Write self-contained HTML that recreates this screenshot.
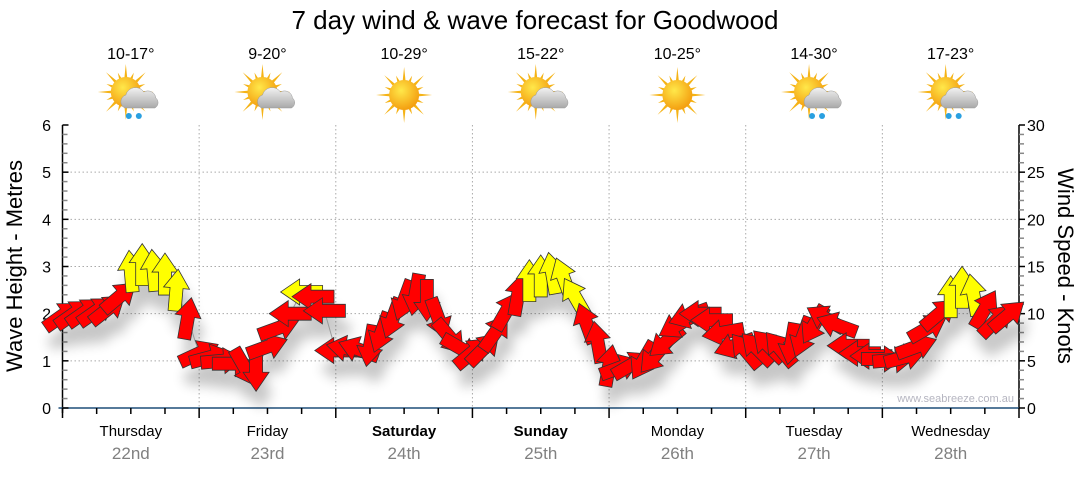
<!DOCTYPE html>
<html><head><meta charset="utf-8"><style>
body{margin:0;background:#fff;}
svg text{font-family:"Liberation Sans",sans-serif;}
</style></head><body>
<svg id="chart" width="1080" height="475" viewBox="0 0 1080 475" xmlns="http://www.w3.org/2000/svg">
<defs>
<filter id="sh" x="-50%" y="-50%" width="200%" height="200%"><feGaussianBlur stdDeviation="6"/></filter>
<radialGradient id="sunG" cx="0.4" cy="0.35" r="0.7"><stop offset="0" stop-color="#ffe84a"/><stop offset="1" stop-color="#f39a0c"/></radialGradient>
<linearGradient id="cloudG" x1="0" y1="0" x2="0" y2="1"><stop offset="0" stop-color="#f2f2f2"/><stop offset="1" stop-color="#a9a9a9"/></linearGradient>
</defs>
<text x="535" y="29" font-size="26" text-anchor="middle" fill="#000">7 day wind &amp; wave forecast for Goodwood</text>
<g id="grid"></g>
<g id="axes"></g>
<g id="icons"></g>
<g id="shadows" filter="url(#sh)" opacity="0.22"></g>
<g id="arrows"></g>
<text x="1014" y="402" font-size="11" text-anchor="end" fill="#b5b5c0">www.seabreeze.com.au</text>
<text transform="translate(22,266) rotate(-90)" font-size="22" text-anchor="middle">Wave Height - Metres</text>
<text transform="translate(1058,266) rotate(90)" font-size="22" text-anchor="middle">Wind Speed - Knots</text>
</svg>
<script>
const days = ["Thursday","Friday","Saturday","Sunday","Monday","Tuesday","Wednesday"];
const dates = ["22nd","23rd","24th","25th","26th","27th","28th"];
const boldDays = [false,false,true,true,false,false,false];
const temps = ["10-17°","9-20°","10-29°","15-22°","10-25°","14-30°","17-23°"];
const iconTypes = ["rain","cloud","sun","cloud","sun","rain","rain"];
const leftTicks = [0,1,2,3,4,5,6];
const rightTicks = [0,5,10,15,20,25,30];
const hours = [0,2,4,6,8,10,12,14,16,18,20,22,
 24,26,28,30,32,34,36,38,40,42,44,46,
 48,50,52,54,56,58,60,62,64,66,68,70,
 72,74,76,78,80,82,84,86,88,90,92,94,
 96,98,100,102,104,106,108,110,112,114,116,118,
 120,122,124,126,128,130,132,134,136,138,140,142,
 144,146,148,150,152,154,156,158,160,162,164,166];
const speeds = [9.8,10,10.2,10.3,10.5,11.8,14.5,15.2,14.6,14.2,12.5,9.5,
 5.8,5.4,5,4.7,4.3,4,6.5,8.5,10,12.3,11.8,10.3,
 6.1,6.3,6.2,6.6,8,9.5,11.4,12,11.4,9.5,7.5,6.3,
 5.9,6.3,8,10.3,12,13.5,14,14.3,13.8,11.8,9,7,
 4.5,4.3,4.6,5,5.5,7,8.8,9.8,10,9.3,8,6.6,
 6.1,6.3,6.6,6.3,6.8,7.5,8.8,9.5,8.8,6.6,5.8,5.5,
 5.2,5.1,5.4,6.5,8.5,10,11.8,12.8,12,10.5,9.3,9.8];
const dirs = [-35,-35,-35,-35,-38,-40,-95,-90,-95,-90,-85,-80,
 -25,-15,-5,0,60,90,-20,-20,180,180,180,180,
 180,190,200,100,110,110,110,100,90,70,50,30,
 -40,-45,-55,-60,-80,-90,-90,-100,-110,-120,-110,-100,
 -80,-20,-30,120,130,140,150,160,180,180,170,160,
 -130,-135,-135,-130,100,110,120,-150,200,180,180,180,
 0,-5,-15,-20,-30,-40,-90,-90,-100,-60,-45,-40];
const colors = ["r","r","r","r","r","r","y","y","y","y","y","r",
 "r","r","r","r","r","r","r","r","r","y","r","r",
 "r","r","r","r","r","r","r","r","r","r","r","r",
 "r","r","r","r","r","y","y","y","y","y","r","r",
 "r","r","r","r","r","r","r","r","r","r","r","r",
 "r","r","r","r","r","r","r","r","r","r","r","r",
 "r","r","r","r","r","r","y","y","y","r","r","r"];

const NS="http://www.w3.org/2000/svg";
const X0=62.5, X1=1019, Y0=408, Y1=125;
const xs = h => X0 + (X1-X0)*h/168;
const yM = m => Y0 - (Y0-Y1)*m/6;
const yK = k => Y0 - (Y0-Y1)*k/30;
function mk(tag, attrs, parent){const e=document.createElementNS(NS,tag);for(const k in attrs)e.setAttribute(k,attrs[k]);parent.appendChild(e);return e;}
const grid=document.getElementById('grid'), axes=document.getElementById('axes'), icons=document.getElementById('icons');
for(let m=1;m<=5;m++){const g=mk('line',{x1:X0,x2:X1,y1:yM(m),y2:yM(m),stroke:'#aaa','stroke-dasharray':'1.5,2.5'},grid);}
for(let d=1;d<7;d++){const g=mk('line',{x1:xs(d*24),x2:xs(d*24),y1:Y1,y2:Y0,stroke:'#aaa','stroke-dasharray':'1.5,2.5'},grid);}
let a=mk('line',{x1:X0,x2:X0,y1:Y1,y2:Y0+5,stroke:'#000','stroke-width':1.5},axes);
a=mk('line',{x1:X1,x2:X1,y1:Y1,y2:Y0,stroke:'#000','stroke-width':1.5},axes);
a=mk('line',{x1:X0-4,x2:X1,y1:Y0,y2:Y0,stroke:'#1f4e79','stroke-width':1.5},axes);
for(let i=0;i<=30;i++){const y=Y1+(Y0-Y1)*i/30;const major=i%5==0;
 mk('line',{x1:X0,x2:X0+(major?6:5),y1:y,y2:y,stroke:major?'#000':'#888','stroke-width':1.5},axes);
 mk('line',{x1:X1,x2:X1+(major?6:5),y1:y,y2:y,stroke:major?'#000':'#888','stroke-width':1.5},axes);}
leftTicks.forEach(v=>{const t=mk('text',{x:51,y:yM(v)+6,'font-size':16,'text-anchor':'end'},axes);t.textContent=v;});
rightTicks.forEach(v=>{const t=mk('text',{x:1027,y:yK(v)+6,'font-size':16},axes);t.textContent=v;});
for(let i=0;i<=28;i++){const x=xs(i*6);mk('line',{x1:x,x2:x,y1:Y0,y2:Y0+(i%4==0?10:6),stroke:'#000','stroke-width':1.5},axes);}
days.forEach((d,i)=>{const cx=xs(i*24+12);
 let t=mk('text',{x:cx,y:436,'font-size':15,'text-anchor':'middle','font-weight':boldDays[i]?'bold':'normal'},axes);t.textContent=d;
 t=mk('text',{x:cx,y:459,'font-size':17,'text-anchor':'middle',fill:'#808080'},axes);t.textContent=dates[i];
 t=mk('text',{x:cx,y:59,'font-size':16,'text-anchor':'middle'},axes);t.textContent=temps[i];
 const g=mk('g',{transform:'translate('+cx+',95)'},icons);
 const sx=iconTypes[i]=='sun'?0:-5, sy=iconTypes[i]=='sun'?0:-3;
 for(let r=0;r<16;r++){const ang=r*Math.PI/8;const L=r%2==0?28:21;
  const p1=[sx+Math.cos(ang-0.12)*13,sy+Math.sin(ang-0.12)*13],p2=[sx+Math.cos(ang)*L,sy+Math.sin(ang)*L],p3=[sx+Math.cos(ang+0.12)*13,sy+Math.sin(ang+0.12)*13];
  mk('polygon',{points:p1.join(',')+' '+p2.join(',')+' '+p3.join(','),fill:'#f5b316'},g);}
 mk('circle',{cx:sx,cy:sy,r:15,fill:'url(#sunG)'},g);
 if(iconTypes[i]!='sun'){
  mk('path',{d:'M-6,13 a7,7 0 0,1 1,-13 a10,10 0 0,1 18,-3 a8,8 0 0,1 12,6 a6,6 0 0,1 -1,10 z',fill:'url(#cloudG)',stroke:'#999','stroke-width':0.5},g);}
 if(iconTypes[i]=='rain'){mk('circle',{cx:-2,cy:21,r:3,fill:'#2aa0e0'},g);mk('circle',{cx:8,cy:21,r:3,fill:'#2aa0e0'},g);}
});
const line=mk('polyline',{points:hours.map((h,i)=>xs(h)+','+yK(speeds[i])).join(' '),fill:'none',stroke:'#999','stroke-width':1},document.getElementById('arrows'));

const shape='M-21,-6.5 L2,-6.5 L2,-13 L21,0 L2,13 L2,6.5 L-21,6.5 Z';
const sh=document.getElementById('shadows'), ar=document.getElementById('arrows');
hours.forEach((h,i)=>{const x=xs(h),y=yK(speeds[i]);
 mk('path',{d:shape,fill:'#000',transform:'translate('+(x+5)+','+(y+18)+') rotate('+dirs[i]+')'},sh);
});
hours.forEach((h,i)=>{const x=xs(h),y=yK(speeds[i]);
 const p=mk('path',{d:shape,fill:colors[i]=='y'?'#ffff00':'#ff0000',stroke:'#333','stroke-width':0.8,transform:'translate('+x+','+y+') rotate('+dirs[i]+')'},ar);
 
 
});
</script>
</body></html>
